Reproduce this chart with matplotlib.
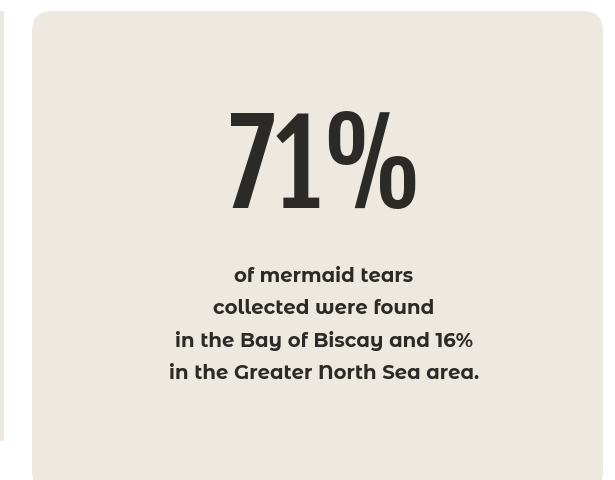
import matplotlib.pyplot as plt
from matplotlib.patches import FancyBboxPatch, Rectangle

big_value = "71%"
caption_lines = [
    "of mermaid tears",
    "collected were found",
    "in the Bay of Biscay and 16%",
    "in the Greater North Sea area.",
]

bg = "#ede9e0"
ink = "#2b2a27"

fig = plt.figure(figsize=(6.15, 4.81), dpi=100)
ax = fig.add_axes([0, 0, 1, 1])
ax.set_xlim(0, 615)
ax.set_ylim(481, 0)
ax.axis("off")

# sliver of the neighbouring card on the left
ax.add_patch(Rectangle((0, 12), 4, 430, color=bg, lw=0))

# the card itself
ax.add_patch(FancyBboxPatch((32, 12), 571, 480, boxstyle="round,pad=0,rounding_size=20",
                            facecolor=bg, edgecolor="none"))

ax.text(326, 208, big_value, ha="center", va="baseline", fontsize=81,
        family=["Fjalla One", "DejaVu Sans"], color=ink)

for i, line in enumerate(caption_lines):
    ax.text(324, 282 + i * 32.3, line, ha="center", va="baseline", fontsize=14.2,
            fontweight="bold", family=["Montserrat Alternates", "DejaVu Sans"], color=ink)

fig.savefig("out.png", dpi=100, facecolor="white")
